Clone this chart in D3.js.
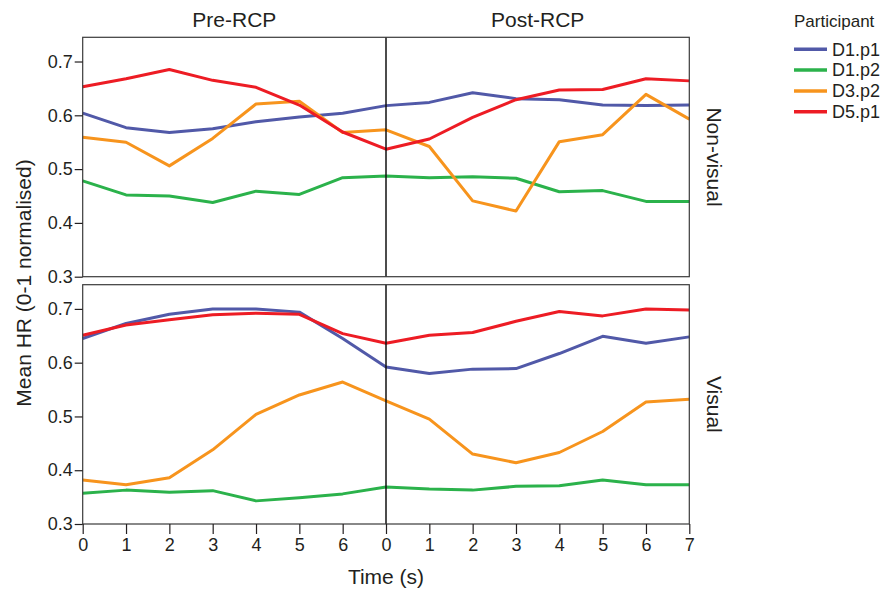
<!DOCTYPE html>
<html>
<head>
<meta charset="utf-8">
<script src="https://cdn.jsdelivr.net/npm/d3@7"></script>
<style>
  body { margin: 0; background: #fff; }
  text { font-family: "Liberation Sans", Arial, sans-serif; fill: #231f20; }
</style>
</head>
<body>
<svg id="chart" width="882" height="591"></svg>
<script>
// x positions 0..14: pre-RCP 0..6, then post-RCP 0..7
const xSteps = d3.range(0, 15);
const xLabels = ["0","1","2","3","4","5","6","0","1","2","3","4","5","6","7"];
const phases = ["Pre-RCP", "Post-RCP"];
const panels = ["Non-visual", "Visual"];
const participants = ["D1.p1", "D1.p2", "D3.p2", "D5.p1"];
const colors = ["#5159a8", "#2bb24b", "#f7941d", "#ed1c24"];
const yTicks = [0.3, 0.4, 0.5, 0.6, 0.7];

// Non-visual panel
const nonVisualD1p1 = [0.604,0.577,0.568,0.575,0.588,0.597,0.604,0.618,0.624,0.642,0.631,0.629,0.619,0.618,0.619];
const nonVisualD1p2 = [0.478,0.452,0.450,0.438,0.459,0.453,0.484,0.487,0.484,0.486,0.483,0.458,0.460,0.440,0.440];
const nonVisualD3p2 = [0.559,0.550,0.506,0.557,0.621,0.626,0.568,0.573,0.542,0.441,0.422,0.551,0.564,0.639,0.593];
const nonVisualD5p1 = [0.653,0.668,0.685,0.665,0.652,0.619,0.569,0.537,0.556,0.596,0.629,0.647,0.648,0.668,0.664];

// Visual panel
const visualD1p1 = [0.645,0.673,0.690,0.700,0.700,0.694,0.645,0.592,0.580,0.588,0.589,0.617,0.649,0.636,0.648];
const visualD1p2 = [0.357,0.363,0.359,0.362,0.343,0.349,0.356,0.369,0.365,0.363,0.370,0.371,0.382,0.373,0.373];
const visualD3p2 = [0.382,0.373,0.386,0.438,0.504,0.540,0.564,0.529,0.495,0.430,0.414,0.433,0.472,0.527,0.532];
const visualD5p1 = [0.651,0.670,0.680,0.689,0.692,0.690,0.654,0.636,0.651,0.656,0.677,0.695,0.687,0.700,0.698];

const panelSeries = [
  [nonVisualD1p1, nonVisualD1p2, nonVisualD3p2, nonVisualD5p1],
  [visualD1p1, visualD1p2, visualD3p2, visualD5p1]
];

const svg = d3.select("#chart");
const left = 82.7, right = 689.3;
const panelBox = [{top: 37.3, bottom: 276.7}, {top: 284.7, bottom: 524}];

const x = d3.scaleLinear().domain([0, 14]).range([left, right]);

const line = (y) => d3.line()
  .x((d, i) => x(xSteps[i]))
  .y(d => y(d));

panelBox.forEach((box, p) => {
  const y = d3.scaleLinear().domain([0.3, 0.745]).range([box.bottom, box.top]);
  const g = svg.append("g");

  panelSeries[p].forEach((vals, s) => {
    g.append("path")
      .datum(vals)
      .attr("fill", "none")
      .attr("stroke", colors[s])
      .attr("stroke-width", 3)
      .attr("stroke-linejoin", "round")
      .attr("d", line(y));
  });

  // divider between pre and post
  g.append("line")
    .attr("x1", x(7)).attr("x2", x(7))
    .attr("y1", box.top).attr("y2", box.bottom)
    .attr("stroke", "#111").attr("stroke-width", 1.5);

  g.append("rect")
    .attr("x", left).attr("y", box.top)
    .attr("width", right - left).attr("height", box.bottom - box.top)
    .attr("fill", "none").attr("stroke", "#3a3a3a").attr("stroke-width", 1.2);

  const yAxis = g.append("g")
    .attr("transform", `translate(${left},0)`)
    .call(d3.axisLeft(y).tickValues(yTicks).tickFormat(d3.format(".1f")).tickSize(8).tickPadding(2));
  yAxis.select(".domain").remove();
  yAxis.selectAll("line").attr("stroke", "#231f20").attr("stroke-width", 1.2);
  yAxis.selectAll("text").attr("font-size", 18).attr("fill", "#231f20")
    .attr("font-family", "Liberation Sans, Arial, sans-serif");

  svg.append("text")
    .attr("transform", `translate(707,${(box.top + box.bottom) / 2}) rotate(90)`)
    .attr("text-anchor", "middle")
    .attr("font-size", 21)
    .text(panels[p]);
});

// x axis on the bottom panel
const xAxis = svg.append("g")
  .attr("transform", `translate(0,${panelBox[1].bottom})`)
  .call(d3.axisBottom(x).tickValues(xSteps).tickFormat((d, i) => xLabels[i]).tickSize(10).tickPadding(4));
xAxis.select(".domain").remove();
xAxis.selectAll("line").attr("stroke", "#231f20").attr("stroke-width", 1.2);
xAxis.selectAll("text").attr("font-size", 18).attr("fill", "#231f20")
  .attr("font-family", "Liberation Sans, Arial, sans-serif");

// phase titles
phases.forEach((t, i) => {
  svg.append("text")
    .attr("x", (x(i * 7) + x(i * 7 + 7)) / 2)
    .attr("y", 27)
    .attr("text-anchor", "middle")
    .attr("font-size", 21)
    .text(t);
});

svg.append("text")
  .attr("x", x(7)).attr("y", 584)
  .attr("text-anchor", "middle")
  .attr("font-size", 21)
  .text("Time (s)");

svg.append("text")
  .attr("transform", "translate(31,283) rotate(-90)")
  .attr("text-anchor", "middle")
  .attr("font-size", 21)
  .text("Mean HR (0-1 normalised)");

// legend
const legend = svg.append("g").attr("transform", "translate(794,0)");
legend.append("text").attr("x", 0).attr("y", 27).attr("font-size", 17).text("Participant");
participants.forEach((name, i) => {
  const ly = 49.3 + i * 20.8;
  legend.append("line")
    .attr("x1", 0).attr("x2", 33).attr("y1", ly).attr("y2", ly)
    .attr("stroke", colors[i]).attr("stroke-width", 3.5);
  legend.append("text")
    .attr("x", 38).attr("y", ly)
    .attr("dy", "0.35em")
    .attr("font-size", 18)
    .text(name);
});
</script>
</body>
</html>
